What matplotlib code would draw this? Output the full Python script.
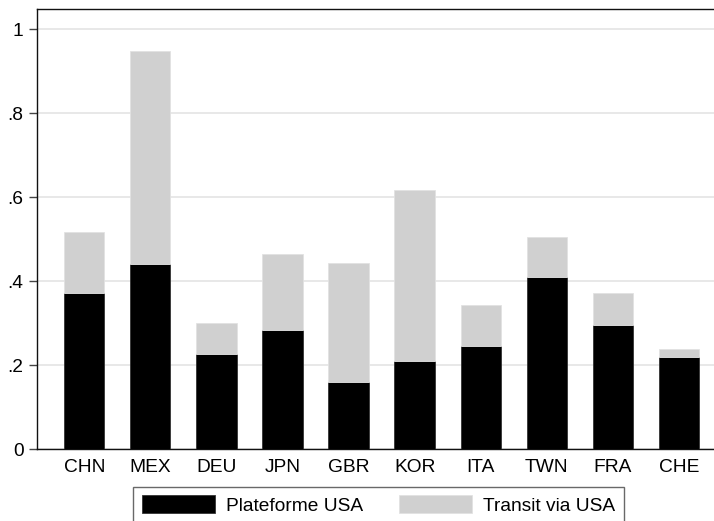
import matplotlib
matplotlib.use("Agg")
import matplotlib.pyplot as plt
import numpy as np

countries = ["CHN", "MEX", "DEU", "JPN", "GBR", "KOR", "ITA", "TWN", "FRA", "CHE"]
plateforme = [0.373, 0.440, 0.226, 0.284, 0.160, 0.210, 0.246, 0.410, 0.295, 0.219]
transit = [0.144, 0.507, 0.075, 0.181, 0.283, 0.406, 0.098, 0.095, 0.077, 0.020]
yticks = [0, 0.2, 0.4, 0.6, 0.8, 1.0]
yticklabels = ["0", ".2", ".4", ".6", ".8", "1"]

plt.rcParams["font.family"] = ["Liberation Sans", "DejaVu Sans"]

W, H = 714, 521
fig = plt.figure(figsize=(W / 100, H / 100), dpi=100)
ax = fig.add_axes([37.3 / W, 1 - 449.3 / H, 1 - 37.3 / W, (449.3 - 9.3) / H])

x = np.arange(len(countries))
bw = 0.61
b1 = ax.bar(x, plateforme, width=bw, color="black", edgecolor="#333333", linewidth=0.6,
            label="Plateforme USA", zorder=3)
b2 = ax.bar(x, transit, width=bw, bottom=plateforme, color="#d0d0d0", edgecolor="#e2e2e2",
            linewidth=0.6, label="Transit via USA", zorder=3)

ax.set_xlim(-0.71, 9.53)
ax.set_ylim(0, 1.047)
ax.set_yticks(yticks)
ax.set_yticklabels(yticklabels)
ax.set_xticks(x)
ax.set_xticklabels(countries)
ax.grid(axis="y", color="#e4e4e4", linewidth=1.2, zorder=0)
ax.set_axisbelow(True)

ax.tick_params(axis="y", length=6, width=1, color="#444444", pad=4, labelsize=13.8)
ax.tick_params(axis="x", length=0, pad=7, labelsize=13.8)
for s in ["left", "top", "bottom"]:
    ax.spines[s].set_color("#111111")
    ax.spines[s].set_linewidth(1.0)
ax.spines["right"].set_visible(False)

leg = fig.legend(handles=[b1, b2], labels=["Plateforme USA", "Transit via USA"],
                 loc="upper left", bbox_to_anchor=(133.3 / W, 1 - 486.7 / H),
                 ncol=2, fontsize=13.8, frameon=True, fancybox=False,
                 handlelength=3.8, handleheight=1.05, handletextpad=0.6,
                 columnspacing=1.85, borderpad=0.45, borderaxespad=0)
leg.get_frame().set_edgecolor("#444444")
leg.get_frame().set_linewidth(1.0)

fig.savefig("out.png", dpi=100)
